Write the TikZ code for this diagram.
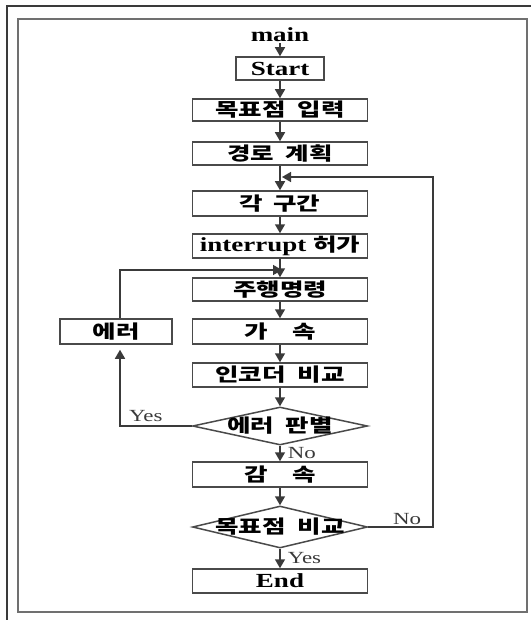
\documentclass[tikz,border=0pt]{standalone}
\usepackage{fontspec}
\setmainfont{Liberation Serif}[FakeStretch=1.35]
\newfontfamily\krfam{Noto Sans CJK KR}[FakeStretch=1.38]
\usetikzlibrary{arrows.meta,shapes.geometric}
\newcommand\latf{\fontsize{20}{21}\selectfont\bfseries}
\newcommand\krf{\krfam\fontsize{18.5}{20}\selectfont\bfseries}
\newcommand\lblf{\fontsize{17}{18}\selectfont}
\definecolor{linec}{HTML}{3A3A3A}
\definecolor{boxc}{HTML}{4A4A4A}
\definecolor{framec}{HTML}{707070}
\begin{document}
\begin{tikzpicture}[x=1pt,y=-1pt,
  box/.style={draw=boxc, line width=1.5pt, minimum width=175pt, minimum height=24pt, inner sep=0pt, font=\latf},
  dia/.style={diamond, draw=boxc, line width=1.5pt, aspect=4.4, minimum width=175pt, minimum height=40pt, inner sep=0pt},
  arr/.style={draw=linec, line width=1.5pt, -{Triangle[length=9pt,width=10pt]}},
  lbl/.style={font=\lblf, text=linec, inner sep=1pt}]
\useasboundingbox (0,0) rectangle (531,620);
% frames
\draw[line width=1.8pt, color=linec] (7,620) -- (7,6) -- (531,6);
\draw[line width=2pt, color=framec] (17.5,19) rectangle (527,612);
% nodes
\node[font=\latf, inner sep=1pt] (main) at (280,35) {main};
\node[box, minimum width=88pt, minimum height=23pt] (start) at (280,68.5) {Start};
\node[box, minimum height=22pt] (goal) at (280,110) {\krf 목표점 \hspace{6pt}입력};
\node[box, minimum height=23pt] (path) at (280,153.5) {\krf 경로 \hspace{6pt}계획};
\node[box, minimum height=25pt] (seg) at (280,203.5) {\krf 각 \hspace{4pt}구간};
\node[box] (intr) at (280,246) {interrupt {\krf 허가}};
\node[box, minimum height=23pt] (drive) at (280,289.5) {\krf 주행명령};
\node[box, minimum height=25pt] (acc) at (280,331.5) {\krf 가\hspace{24pt}속};
\node[box, minimum width=112pt, minimum height=25pt] (err) at (116,331.5) {\krf 에러};
\node[box] (enc) at (280,375) {\krf 인코더 \hspace{6pt}비교};
\node[dia, minimum height=38pt] (d1) at (280,426) {\makebox[0pt]{\krf 에러 \hspace{6pt}판별}};
\node[box, minimum height=25pt] (dec) at (280,474.5) {\krf 감\hspace{24pt}속};
\node[dia, minimum height=42pt] (d2) at (280,527) {\makebox[0pt]{\krf 목표점 \hspace{6pt}비교}};
\node[box] (end) at (280,581) {End};
\coordinate (m1) at (282,177);
\coordinate (m2) at (282,270);
\coordinate (rc) at (433,177);
% connectors
\draw[arr] (main) -- (start);
\draw[arr] (start) -- (goal);
\draw[arr] (goal) -- (path);
\draw[arr] (path) -- (seg);
\draw[arr] (seg) -- (intr);
\draw[arr] (intr) -- (drive);
\draw[arr] (drive) -- (acc);
\draw[arr] (acc) -- (enc);
\draw[arr] (enc) -- (d1);
\draw[arr] (d1) -- node[lbl, right=6pt, pos=0.45] {No} (dec);
\draw[arr] (dec) -- (d2);
\draw[arr] (d2) -- node[lbl, right=6pt, pos=0.45] {Yes} (end);
\draw[arr, shorten >=5pt] (d1.west) -| node[lbl, above=3pt, pos=0.32] {Yes} ([xshift=4pt]err.south);
\draw[arr] ([xshift=4pt]err.north) |- (m2);
\draw[arr] (d2.east) -| node[lbl, above=1pt, pos=0.3] {No} (rc) -- (m1);
\end{tikzpicture}
\end{document}
